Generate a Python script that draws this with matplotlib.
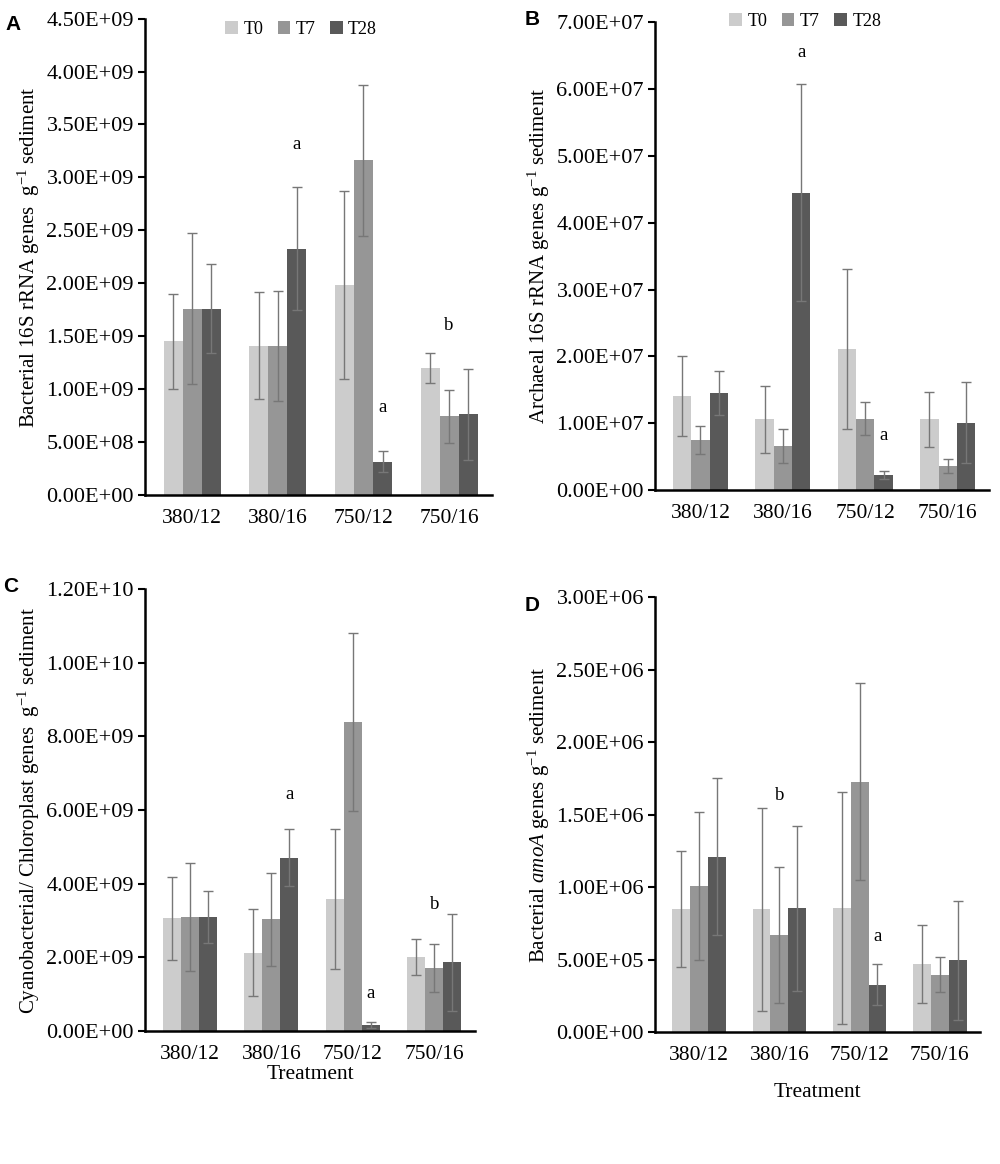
import matplotlib
matplotlib.use("Agg")
import matplotlib.pyplot as plt
import numpy as np

plt.rcParams["font.family"] = ["Liberation Serif", "DejaVu Serif"]
plt.rcParams["mathtext.fontset"] = "custom"
plt.rcParams["mathtext.rm"] = "Liberation Serif"
plt.rcParams["mathtext.it"] = "Liberation Serif:italic"

treatments = ["380/12", "380/16", "750/12", "750/16"]
times = ["T0", "T7", "T28"]
colors = ["#cccccc", "#969696", "#595959"]

# panel A: bacterial 16S rRNA
bac16s = [[1.45e9, 1.41e9, 1.985e9, 1.20e9],
          [1.76e9, 1.41e9, 3.16e9, 0.74e9],
          [1.76e9, 2.325e9, 0.31e9, 0.76e9]]
bac16s_err = [[0.45e9, 0.51e9, 0.89e9, 0.14e9],
              [0.71e9, 0.52e9, 0.71e9, 0.25e9],
              [0.42e9, 0.58e9, 0.10e9, 0.43e9]]

# panel B: archaeal 16S rRNA
arc16s = [[1.41e7, 1.06e7, 2.11e7, 1.06e7],
          [0.75e7, 0.66e7, 1.07e7, 0.36e7],
          [1.45e7, 4.45e7, 0.22e7, 1.01e7]]
arc16s_err = [[0.60e7, 0.50e7, 1.20e7, 0.41e7],
              [0.21e7, 0.25e7, 0.24e7, 0.10e7],
              [0.33e7, 1.62e7, 0.06e7, 0.61e7]]

# panel C: cyanobacterial / chloroplast
cyano = [[3.06e9, 2.13e9, 3.59e9, 2.01e9],
         [3.10e9, 3.03e9, 8.39e9, 1.70e9],
         [3.10e9, 4.70e9, 0.16e9, 1.86e9]]
cyano_err = [[1.12e9, 1.17e9, 1.90e9, 0.50e9],
             [1.46e9, 1.27e9, 2.41e9, 0.65e9],
             [0.70e9, 0.77e9, 0.07e9, 1.31e9]]

# panel D: bacterial amoA
amoa = [[0.845e6, 0.845e6, 0.852e6, 0.467e6],
        [1.01e6, 0.668e6, 1.727e6, 0.396e6],
        [1.21e6, 0.852e6, 0.327e6, 0.495e6]]
amoa_err = [[0.40e6, 0.70e6, 0.80e6, 0.27e6],
            [0.51e6, 0.47e6, 0.68e6, 0.12e6],
            [0.54e6, 0.57e6, 0.14e6, 0.41e6]]

# significance letters: (treatment index, series index, y, letter)
letters_a = [(1, 2, 3.31e9, "a"), (2, 2, 0.82e9, "a"), (3, 1, 1.60e9, "b")]
letters_b = [(1, 2, 6.55e7, "a"), (2, 2, 0.82e7, "a")]
letters_c = [(1, 2, 6.41e9, "a"), (2, 2, 1.02e9, "a"), (3, 1, 3.42e9, "b")]
letters_d = [(1, 1, 1.634e6, "b"), (2, 2, 0.656e6, "a")]

panels = [
    ("A", bac16s, bac16s_err, letters_a, 4.5e9, 0.5e9,
     "Bacterial 16S rRNA genes  g$^{-1}$ sediment", 1.03, False,
     [0.145, 0.575, 0.347, 0.409]),
    ("B", arc16s, arc16s_err, letters_b, 7e7, 1e7,
     "Archaeal 16S rRNA genes g$^{-1}$ sediment", 1.055, False,
     [0.655, 0.579, 0.334, 0.402]),
    ("C", cyano, cyano_err, letters_c, 1.2e10, 2e9,
     "Cyanobacterial/ Chloroplast genes  g$^{-1}$ sediment", None, True,
     [0.145, 0.1143, 0.330, 0.3797]),
    ("D", amoa, amoa_err, letters_d, 3e6, 5e5,
     "Bacterial $\\mathit{amoA}$ genes g$^{-1}$ sediment", None, True,
     [0.655, 0.1134, 0.325, 0.3737]),
]
label_pos = {"A": (0.005, 0.987), "B": (0.525, 0.991), "C": (0.003, 0.504), "D": (0.525, 0.488)}

fig = plt.figure(figsize=(10, 11.64), dpi=100)

x = np.arange(len(treatments))
width = 0.222
for name, vals, errs, letters, ymax, step, ylabel, legend_y, show_xlabel, rect in panels:
    ax = fig.add_axes(rect)
    for i, t in enumerate(times):
        ax.bar(x + (i - 1) * width, vals[i], width, color=colors[i], label=t,
               yerr=errs[i], capsize=3.5,
               error_kw=dict(ecolor="#777777", elinewidth=1.0, capthick=1.0))
    for ti, si, y, s in letters:
        ax.text(x[ti] + (si - 1) * width, y, s, ha="center", va="center", fontsize=13.5)
    ax.set_xlim(-0.55, 3.5)
    ax.set_ylim(0, ymax)
    ticks = np.arange(0, ymax + step / 2, step)
    ax.set_yticks(ticks)
    ax.set_yticklabels(["%.2E" % v for v in ticks], fontsize=16)
    ax.set_xticks(x)
    ax.set_xticklabels(treatments, fontsize=15.5)
    ax.tick_params(axis="x", length=0, pad=10)
    ax.tick_params(axis="y", length=5, width=1.5, direction="out", pad=3)
    ax.spines["top"].set_visible(False)
    ax.spines["right"].set_visible(False)
    ax.spines["left"].set_linewidth(1.8)
    ax.spines["bottom"].set_linewidth(1.8)
    ax.set_ylabel(ylabel, fontsize=15, labelpad=3)
    if show_xlabel:
        ax.set_xlabel("Treatment", fontsize=15.5, labelpad=1 if name == "C" else 13)
    if legend_y is not None:
        ax.legend(loc="upper center", bbox_to_anchor=(0.45, legend_y), ncol=3, frameon=False,
                  fontsize=13, handlelength=0.7, handleheight=0.7, columnspacing=0.8,
                  handletextpad=0.3)
    fig.text(label_pos[name][0], label_pos[name][1], name, fontsize=15, fontweight="bold",
             family="Liberation Sans", va="top")

fig.savefig("out.png", dpi=100)
